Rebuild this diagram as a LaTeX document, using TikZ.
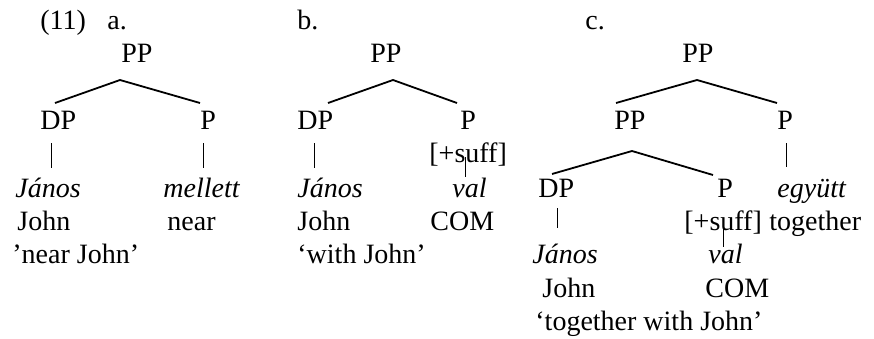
\documentclass[tikz,border=0pt]{standalone}
\usepackage{fontspec}
\setmainfont{Liberation Serif}

\begin{document}
\begin{tikzpicture}[x=0.5pt,y=0.5pt,yscale=-1,xscale=1,
  lbl/.style={anchor=base west,inner sep=0pt,font=\fontsize{14}{17}\selectfont},
  obj/.style={lbl,font=\fontsize{14}{17}\selectfont\itshape},
  branch/.style={line width=0.9pt},
  stem/.style={line width=0.5pt}]
\useasboundingbox (0,0) rectangle (874,338);

% (11a) PP -> DP P
\node[lbl] (exNo) at (40,29) {(11)};
\node[lbl] (aLab) at (107,29) {a.};
\node[lbl] (aPP) at (121,62) {PP};
\node[lbl] (aDP) at (40,129) {DP};
\node[lbl] (aP) at (200,129) {P};
\node[obj] (aJanos) at (15,197) {János};
\node[obj] (aMellett) at (163,197) {mellett};
\node[lbl] (aJohn) at (17,230) {John};
\node[lbl] (aNear) at (167,230) {near};
\node[lbl] (aGloss) at (12,263) {’near John’};
\coordinate (aTop) at (120,80);
\coordinate (aL) at (55,103);
\coordinate (aR) at (200,103);
\coordinate (aDPs) at (51,143);
\coordinate (aDPe) at (51,168);
\coordinate (aPs) at (203,143);
\coordinate (aPe) at (203,168);
\draw[branch] (aL) -- (aTop) -- (aR);
\draw[stem] (aDPs) -- (aDPe);
\draw[stem] (aPs) -- (aPe);

% (11b) suffixal P
\node[lbl] (bLab) at (297,29) {b.};
\node[lbl] (bPP) at (370,62) {PP};
\node[lbl] (bDP) at (297,129) {DP};
\node[lbl] (bP) at (460,129) {P};
\node[lbl] (bSuff) at (429,162) {[+suff]};
\node[obj] (bJanos) at (297,197) {János};
\node[obj] (bVal) at (452,197) {val};
\node[lbl] (bJohn) at (297,230) {John};
\node[lbl] (bCom) at (430,230) {COM};
\node[lbl] (bGloss) at (297,263) {‘with John’};
\coordinate (bTop) at (393,80);
\coordinate (bL) at (328,103);
\coordinate (bR) at (457,103);
\coordinate (bDPs) at (314,143);
\coordinate (bDPe) at (314,168);
\coordinate (bPs) at (465,157);
\coordinate (bPe) at (465,177);
\draw[branch] (bL) -- (bTop) -- (bR);
\draw[stem] (bDPs) -- (bDPe);
\draw[stem] (bPs) -- (bPe);

% (11c) stacked PP
\node[lbl] (cLab) at (585,29) {c.};
\node[lbl] (cPP) at (682,62) {PP};
\node[lbl] (cPPi) at (614,129) {PP};
\node[lbl] (cP) at (777,129) {P};
\node[lbl] (cDP) at (538,197) {DP};
\node[lbl] (cPi) at (717,197) {P};
\node[obj] (cEgyutt) at (777,197) {együtt};
\node[lbl] (cSuff) at (684,230) {[+suff]};
\node[lbl] (cTogether) at (769,230) {together};
\node[obj] (cJanos) at (532,263) {János};
\node[obj] (cVal) at (708,263) {val};
\node[lbl] (cJohn) at (542,297) {John};
\node[lbl] (cCom) at (705,297) {COM};
\node[lbl] (cGloss) at (535,330) {‘together with John’};
\coordinate (cTop) at (697,80);
\coordinate (cL) at (616,103);
\coordinate (cR) at (777,103);
\coordinate (cTopi) at (632,151);
\coordinate (cLi) at (552,174);
\coordinate (cRi) at (713,175);
\coordinate (cPs) at (786,143);
\coordinate (cPe) at (786,167);
\coordinate (cDPs) at (557,208);
\coordinate (cDPe) at (557,228);
\coordinate (cPis) at (723,224);
\coordinate (cPie) at (723,247);
\draw[branch] (cL) -- (cTop) -- (cR);
\draw[branch] (cLi) -- (cTopi) -- (cRi);
\draw[stem] (cPs) -- (cPe);
\draw[stem] (cDPs) -- (cDPe);
\draw[stem] (cPis) -- (cPie);

\end{tikzpicture}
\end{document}
